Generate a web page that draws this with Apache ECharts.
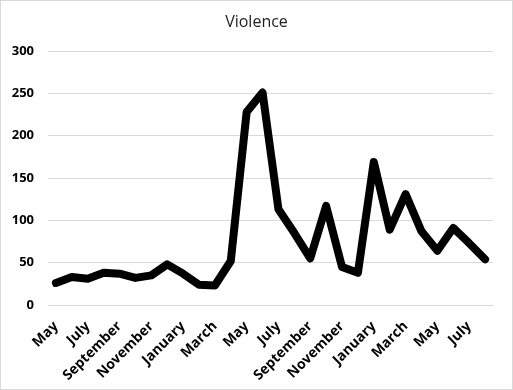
<!DOCTYPE html>
<html><head><meta charset="utf-8">
<script src="https://cdn.jsdelivr.net/npm/echarts@6/dist/echarts.min.js"></script>
<style>
html,body{margin:0;padding:0;background:#fff;}
#c{width:511px;height:388px;border:1px solid #d9d9d9;}
</style></head>
<body><div id="c"></div>
<script>
const months = ["May","June","July","August","September","October","November","December",
"January","February","March","April","May","June","July","August","September","October","November","December",
"January","February","March","April","May","June","July","August"];
const violence = [26,33,31,38,37,32,35,48,37,24,23,52,228,251,113,85,55,117,45,38,169,89,131,87,64,91,73,54];
const yTicks = {min:0, max:300, interval:50};

const chart = echarts.init(document.getElementById('c'));
chart.setOption({
  animation:false,
  title:{text:'Violence', left:'center', top:8,
    textStyle:{fontFamily:'Open Sans', fontSize:16, fontWeight:'normal', color:'#222'}},
  grid:{left:47, right:19, top:50, bottom:84},
  xAxis:{type:'category', data:months, boundaryGap:true,
    axisLine:{lineStyle:{color:'#d9d9d9'}}, axisTick:{show:false},
    axisLabel:{show:false}},
  yAxis:{type:'value', min:yTicks.min, max:yTicks.max, interval:yTicks.interval,
    axisLine:{show:false}, axisTick:{show:false},
    splitLine:{lineStyle:{color:'#d9d9d9'}},
    axisLabel:{color:'#000', fontWeight:'bold', fontSize:13, fontFamily:'Open Sans', margin:14}},
  series:[{type:'line', data:violence, showSymbol:false, symbol:'none',
    lineStyle:{color:'#000', width:8, join:'round', cap:'round'}}]
});

// Rotated category labels (every other month), positioned through the axis scales
const baseY = chart.convertToPixel({yAxisIndex:0}, 0);
const labels = [];
months.forEach(function(m, i){
  if (i % 2 !== 0) return;
  const px = chart.convertToPixel({xAxisIndex:0}, i);
  labels.push({type:'text', x:px, y:baseY + 19, rotation:Math.PI/4, silent:true,
    style:{text:m, fill:'#000', font:'bold 14px "Open Sans"', align:'right', verticalAlign:'middle'}});
});
chart.setOption({graphic:labels});
</script></body></html>
